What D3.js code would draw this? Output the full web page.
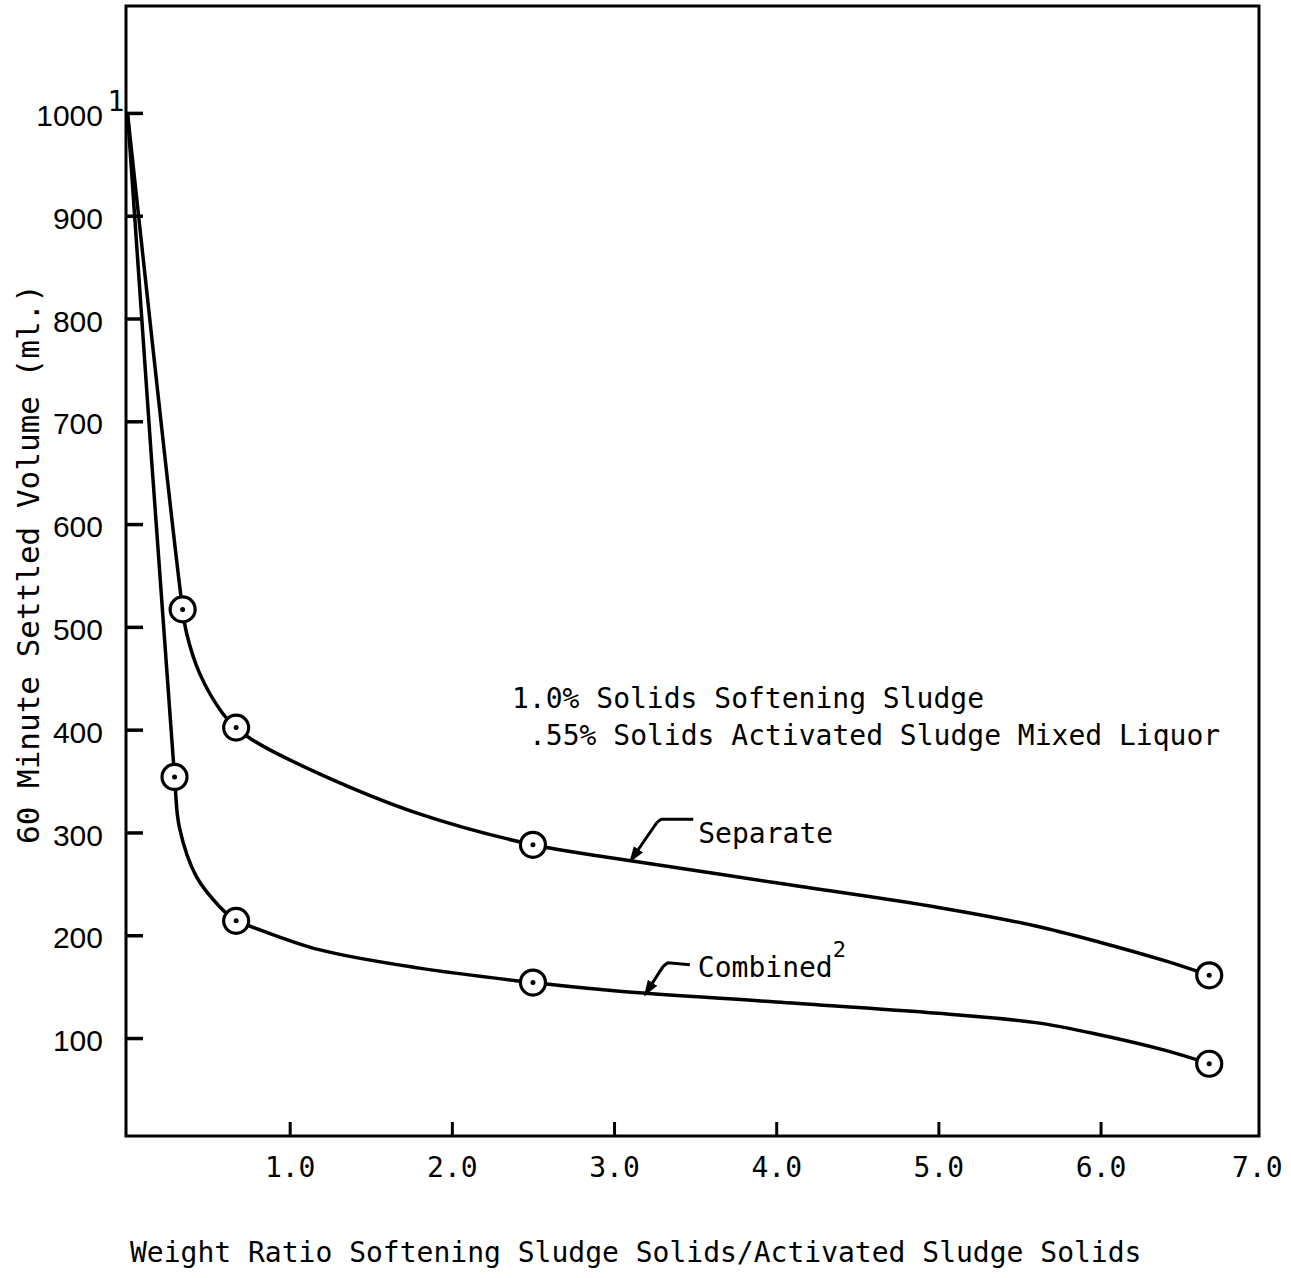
<!DOCTYPE html>
<html><head><meta charset="utf-8">
<script src="https://cdn.jsdelivr.net/npm/d3@7"></script>
<style>body{margin:0;background:#fff}svg{display:block}</style>
</head><body><svg id="c" width="1291" height="1278"></svg>
<script>
// ---- data ----
const xTickValues = [1, 2, 3, 4, 5, 6, 7];
const xTickLabels = ["1.0", "2.0", "3.0", "4.0", "5.0", "6.0", "7.0"];
const yTickValues = [100, 200, 300, 400, 500, 600, 700, 800, 900, 1000];
const yTickLabels = ["100", "200", "300", "400", "500", "600", "700", "800", "900", "1000"];

// measured points (circled)
const separateX = [0.34, 0.67, 2.50, 6.67];
const separateY = [517, 402, 288, 161];
const combinedX = [0.29, 0.67, 2.50, 6.67];
const combinedY = [354, 214, 154, 75];

// hand-drawn curves
const separateCurveX = [0.0, 0.34, 0.364, 0.444, 0.586, 0.67, 0.771, 1.184, 1.80, 2.50, 3.0, 4.0, 5.0, 5.6, 6.0, 6.4, 6.67];
const separateCurveY = [1000, 517, 494, 455, 416, 402, 390, 357, 318, 288, 275, 251, 227, 209, 193, 175, 161];
const combinedCurveX = [0.0, 0.29, 0.32, 0.425, 0.567, 0.67, 0.77, 1.18, 1.80, 2.50, 3.0, 4.0, 5.0, 5.6, 6.0, 6.4, 6.67];
const combinedCurveY = [1000, 354, 305, 257, 228, 214, 208, 186, 168, 154, 146, 135, 124, 115, 103, 88, 75];

const xTitle = "Weight Ratio Softening Sludge Solids/Activated Sludge Solids";
const yTitle = "60 Minute Settled Volume (ml.)";
const noteLines = ["1.0% Solids Softening Sludge", ".55% Solids Activated Sludge Mixed Liquor"];
const seriesNames = ["Separate", "Combined"];
const superscripts = ["1", "2"];
const arrowTips = [{x: 3.10, y: 272}, {x: 3.19, y: 142}];

// ---- layout ----
const L = 126, R = 1259, T = 6, B = 1136;
const MONO = "'DejaVu Sans Mono', monospace";
const SANS = "'Liberation Sans', Arial, sans-serif";

const svg = d3.select("#c");
const x = d3.scaleLinear().domain([0, 6.98]).range([127.5, 1259.5]);
const y = d3.scaleLinear().domain([4.7, 1104]).range([B, T]);

// frame
svg.append("rect").attr("x", L).attr("y", T).attr("width", R - L).attr("height", B - T)
  .attr("fill", "none").attr("stroke", "#000").attr("stroke-width", 3);

// y axis
const yAxis = svg.append("g").attr("transform", `translate(${L},0)`)
  .call(d3.axisLeft(y).tickValues(yTickValues).tickFormat((d, i) => yTickLabels[i])
    .tickSizeInner(-17).tickSizeOuter(0).tickPadding(23));
yAxis.select(".domain").remove();
yAxis.selectAll(".tick line").attr("stroke", "#000").attr("stroke-width", 3.5);
yAxis.selectAll(".tick text").attr("font-family", SANS).attr("font-size", 30)
  .attr("fill", "#000").attr("dy", "0.42em");

// x axis
const xAxis = svg.append("g").attr("transform", `translate(0,${B})`)
  .call(d3.axisBottom(x).tickValues(xTickValues).tickFormat((d, i) => xTickLabels[i])
    .tickSizeInner(-14).tickSizeOuter(0).tickPadding(21));
xAxis.select(".domain").remove();
xAxis.selectAll(".tick line").attr("stroke", "#000").attr("stroke-width", 3)
  .attr("display", d => d === 7 ? "none" : null);
xAxis.selectAll(".tick text").attr("font-family", MONO).attr("font-size", 28).attr("fill", "#000")
  .attr("dx", d => d === 7 ? -6 : 0);

// superscript on 1000
svg.append("text").attr("x", x(0) - 20).attr("y", y(1000) - 2)
  .attr("font-family", MONO).attr("font-size", 28).text(superscripts[0]);

// axis titles
svg.append("text").attr("x", 130).attr("y", 1262)
  .attr("font-family", MONO).attr("font-size", 28).text(xTitle);
svg.append("text").attr("transform", "translate(39,844) rotate(-90)")
  .attr("font-family", MONO).attr("font-size", 31).text(yTitle);

// curves
const line = d3.line().x(d => x(d[0])).y(d => y(d[1])).curve(d3.curveCatmullRom.alpha(0.5));
const curves = [d3.zip(separateCurveX, separateCurveY), d3.zip(combinedCurveX, combinedCurveY)];
svg.append("g").selectAll("path").data(curves).join("path")
  .attr("d", line).attr("fill", "none").attr("stroke", "#000").attr("stroke-width", 3.5)
  .attr("stroke-linejoin", "round");

// markers
const pts = d3.zip(separateX, separateY).concat(d3.zip(combinedX, combinedY));
const mk = svg.append("g").selectAll("g").data(pts).join("g")
  .attr("transform", d => `translate(${x(d[0])},${y(d[1])})`);
mk.append("circle").attr("r", 12.5).attr("fill", "#fff").attr("stroke", "#000").attr("stroke-width", 3.2);
mk.append("circle").attr("r", 2.5).attr("fill", "#000");

// note
const note = svg.append("text").attr("font-family", MONO).attr("font-size", 28);
note.append("tspan").attr("x", 512).attr("y", 708).text(noteLines[0]);
note.append("tspan").attr("x", 529).attr("y", 745).text(noteLines[1]);

// arrow marker
svg.append("defs").append("marker").attr("id", "ah").attr("viewBox", "0 0 10 10")
  .attr("refX", 9).attr("refY", 5).attr("markerWidth", 16).attr("markerHeight", 16)
  .attr("markerUnits", "userSpaceOnUse").attr("orient", "auto")
  .append("path").attr("d", "M0,1.5 L10,5 L0,8.5 Z").attr("fill", "#000");

// leaders
const leaders = [
  {bend: [27, -40], end: [63, -42], text: [68, -18]},
  {bend: [19, -30], end: [45, -30], text: [53, -18]}
];
arrowTips.forEach((t, i) => {
  const tx = x(t.x), ty = y(t.y), l = leaders[i];
  svg.append("path")
    .attr("d", `M${tx + l.end[0]},${ty + l.end[1]} L${tx + l.bend[0] + 4},${ty + l.bend[1] - 2} Q${tx + l.bend[0]},${ty + l.bend[1]} ${tx + l.bend[0] - 3},${ty + l.bend[1] + 5} L${tx},${ty}`)
    .attr("fill", "none").attr("stroke", "#000").attr("stroke-width", 3).attr("marker-end", "url(#ah)");
  const tt = svg.append("text").attr("x", tx + l.text[0]).attr("y", ty + l.text[1])
    .attr("font-family", MONO).attr("font-size", 28).text(seriesNames[i]);
  if (i === 1) tt.append("tspan").attr("font-size", 22).attr("dy", -20).text(superscripts[1]);
});
</script></body></html>
